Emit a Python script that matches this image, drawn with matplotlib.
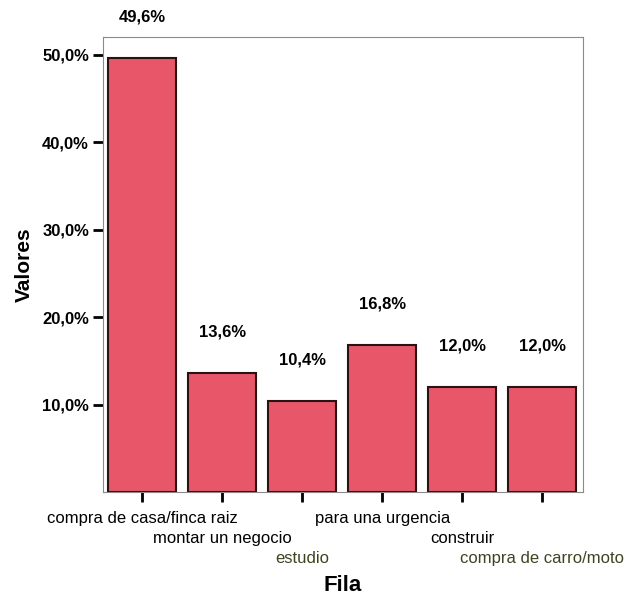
import matplotlib.pyplot as plt
from matplotlib.ticker import FuncFormatter

# Datos del grafico
categorias = ["compra de casa/finca raiz", "montar un negocio", "estudio",
              "para una urgencia", "construir", "compra de carro/moto"]
valores = [49.6, 13.6, 10.4, 16.8, 12.0, 12.0]
yticks = [10, 20, 30, 40, 50]

plt.rcParams['font.family'] = ['Liberation Sans', 'DejaVu Sans']

fig = plt.figure(figsize=(6.25, 5.99), dpi=100)
ax = fig.add_axes([0.1648, 0.1786, 0.768, 0.7596])

x = range(len(categorias))
ax.bar(x, valores, width=0.85, color='#e8566a', edgecolor='#2a1212', linewidth=1.5)

# etiquetas de valor sobre cada barra
for i, v in zip(x, valores):
    ax.text(i, v + 4.7, f"{v:.1f}%".replace('.', ','), ha='center', va='center',
            fontsize=12, fontweight='bold', clip_on=False)

ax.set_xlim(-0.49, 5.51)
ax.set_ylim(0, 52)
ax.set_yticks(yticks)
ax.yaxis.set_major_formatter(FuncFormatter(lambda v, p: f"{v:.1f}%".replace('.', ',')))
for lbl in ax.get_yticklabels():
    lbl.set_fontweight('bold')

# etiquetas del eje x escalonadas en tres filas
ax.set_xticks(list(x))
escalonadas = ["\n" * (i % 3) + c for i, c in enumerate(categorias)]
ax.set_xticklabels(escalonadas, fontsize=12, linespacing=1.38, va='top')
for i, lbl in enumerate(ax.get_xticklabels()):
    if i % 3 == 2:
        lbl.set_color('#3d4420')

ax.tick_params(axis='both', direction='out', length=7, width=2, color='black')
ax.tick_params(axis='y', labelsize=12, pad=3)
ax.tick_params(axis='x', pad=7)

for s in ax.spines.values():
    s.set_color('#8a8a8a')
    s.set_linewidth(0.8)

ax.set_ylabel("Valores", fontsize=15, fontweight='bold', labelpad=6)
ax.set_xlabel("Fila", fontsize=16, fontweight='bold', labelpad=7)

fig.savefig("out.png", dpi=100)
